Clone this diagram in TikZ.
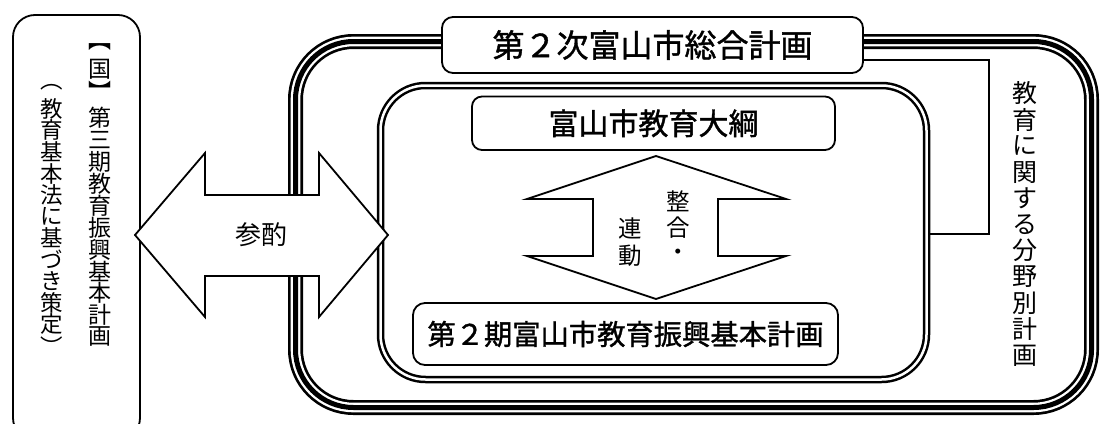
\documentclass[tikz,border=0pt]{standalone}
\usepackage{fontspec}
\usetikzlibrary{backgrounds}
\newfontfamily\jp{Noto Sans CJK JP}
\newfontfamily\jpb[FakeBold=1.2]{Noto Sans CJK JP}
\makeatletter
\newcommand\vstk[2]{\vbox{\offinterlineskip\@tfor\vch:=#2\do{\vbox to #1{\vss\hbox to #1{\hss\vch\hss}\vss}}}}
\makeatother
\tikzset{
  frame/.style={draw, line width=1.8pt, inner sep=0pt, outer sep=0pt},
  boxr/.style={frame, fill=white, rounded corners=#1},
  vt/.style={inner sep=0pt, outer sep=0pt, anchor=north},
  arrowshape/.style={draw, line width=1.8pt, fill=white, line join=miter},
  conn/.style={draw, line width=1.7pt},
}
\begin{document}
\begin{tikzpicture}[x=1pt,y=-1pt]
\useasboundingbox (0,0) rectangle (1100,423);
\begin{scope}[on background layer]
\fill[white] (0,0) rectangle (1100,423);
\end{scope}
\clip (0,0) rectangle (1100,423);

% left box (national plan)
\node[frame, rounded corners=22pt, minimum width=127pt, minimum height=425pt] (kuni) at (76.5,227.5) {};

% outer triple frame
\node[draw, inner sep=0pt, outer sep=0pt, minimum width=796pt, minimum height=366pt,
      rounded corners=58pt, line width=15pt,
      postaction={draw=white, line width=9.6pt},
      postaction={draw=black, line width=5pt}] (outer) at (693.5,224.5) {};

% inner double frame
\node[draw, inner sep=0pt, outer sep=0pt, minimum width=546pt, minimum height=294pt,
      rounded corners=45pt, line width=2.5pt, double, double distance=2.5pt] (inner) at (653.5,232.5) {};

% connector
\coordinate (c1) at (989,60);
\coordinate (c2) at (989,234);

% top box
\node[boxr=11pt, minimum width=421pt, minimum height=56pt,
      font={\jpb\fontsize{32pt}{32pt}\selectfont}] (sogo) at (652.5,45) {第２次富山市総合計画};
\begin{scope}[on background layer]
\draw[conn, shorten >=-3.75pt] (sogo.east |- c1) -- (c1) -- (c2) -- (c2 -| inner.east);
\end{scope}

% inner boxes
\node[boxr=10pt, minimum width=363pt, minimum height=53.5pt,
      font={\jpb\fontsize{30pt}{30pt}\selectfont}] (taiko) at (653.5,123.25) {富山市教育大綱};
\node[boxr=12pt, minimum width=425pt, minimum height=62pt,
      font={\jpb\fontsize{28.3pt}{28.3pt}\selectfont}] (shinko) at (625.5,334) {第２期富山市教育振興基本計画};

% big horizontal double arrow
\path[arrowshape] (135,235) -- (205,153) -- (205,195) -- (319,195) -- (319,153) -- (388,235)
  -- (319,317) -- (319,276) -- (205,276) -- (205,317) -- cycle;
\node[font={\jp\fontsize{26pt}{26pt}\selectfont}, inner sep=0pt] (sansh) at (261,235) {参酌};

% vertical double arrow
\path[arrowshape] (656,156) -- (786,199) -- (718,199) -- (718,256) -- (786,256) -- (656,299)
  -- (527,256) -- (593,256) -- (593,199) -- (527,199) -- cycle;
\node[vt, font={\jp\fontsize{23.5pt}{23.5pt}\selectfont}] (seigo) at (678,187.5) {\vstk{27pt}{整合・}};
\node[vt, font={\jp\fontsize{23.5pt}{23.5pt}\selectfont}] (rendo) at (630,215) {\vstk{27pt}{連動}};

% vertical texts
\node[vt, font={\jp\fontsize{23pt}{23pt}\selectfont}] (k1) at (100,36) {\vstk{22pt}{︻国︼}};
\node[vt, font={\jp\fontsize{23pt}{23pt}\selectfont}] (k2) at (100,107) {\vstk{21.9pt}{第三期教育振興基本計画}};
\node[vt, font={\jp\fontsize{22.5pt}{22.5pt}\selectfont}] (k3) at (52,76.5) {\vstk{21.55pt}{︵教育基本法に基づき策定︶}};
\node[vt, font={\jp\fontsize{25pt}{25pt}\selectfont}] (bunya) at (1025,80.4) {\vstk{26.2pt}{教育に関する分野別計画}};
\end{tikzpicture}
\end{document}
